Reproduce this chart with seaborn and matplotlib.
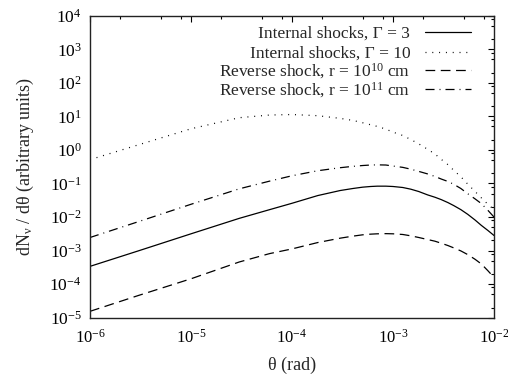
import numpy as np
import pandas as pd
import matplotlib
matplotlib.use("Agg")
import matplotlib.pyplot as plt
import matplotlib.ticker as mticker
import seaborn as sns

# Viewing angle (rad)
theta = [1e-6, 3e-6, 1e-5, 3e-5, 6e-5, 1e-4, 1.8e-4, 3e-4, 4e-4, 5e-4, 6e-4, 7e-4, 8.5e-4,
         1e-3, 1.25e-3, 1.5e-3, 1.8e-3, 2.2e-3, 2.6e-3, 3e-3, 3.5e-3, 4e-3, 4.7e-3,
         5.5e-3, 6.5e-3, 7.5e-3, 8.7e-3, 1e-2]

# log10 of dN_nu/dtheta for each emission model
internal_g3 = [-3.47, -3.01, -2.50, -2.04, -1.78, -1.59, -1.36, -1.21, -1.15, -1.11, -1.09,
               -1.08, -1.08, -1.09, -1.12, -1.17, -1.24, -1.34, -1.41, -1.48, -1.57, -1.66,
               -1.78, -1.92, -2.09, -2.25, -2.40, -2.55]
internal_g10 = [-0.29, 0.15, 0.63, 0.96, 1.04, 1.055, 1.02, 0.94, 0.88, 0.81, 0.75, 0.70,
                0.62, 0.53, 0.43, 0.31, 0.18, 0.02, -0.12, -0.28, -0.44, -0.61, -0.80,
                -1.02, -1.24, -1.43, -1.62, -1.78]
reverse_r10 = [-4.81, -4.34, -3.84, -3.34, -3.09, -2.95, -2.76, -2.63, -2.57, -2.53, -2.51,
               -2.50, -2.495, -2.50, -2.52, -2.56, -2.61, -2.67, -2.72, -2.78, -2.85, -2.92,
               -3.01, -3.12, -3.26, -3.40, -3.60, -3.80]
reverse_r11 = [-2.61, -2.14, -1.62, -1.16, -0.93, -0.77, -0.62, -0.53, -0.49, -0.465, -0.45,
               -0.445, -0.45, -0.48, -0.52, -0.574, -0.64, -0.715, -0.79, -0.867, -0.94,
               -1.025, -1.15, -1.306, -1.46, -1.60, -1.80, -2.0]

labels = ["Internal shocks, Γ = 3",
          "Internal shocks, Γ = 10",
          r"Reverse shock, r = 10$^{10}$ cm",
          r"Reverse shock, r = 10$^{11}$ cm"]

sns.set_style("white")
plt.rcParams["font.family"] = ["Liberation Serif", "DejaVu Serif"]
plt.rcParams["mathtext.fontset"] = "custom"
plt.rcParams["mathtext.rm"] = "Liberation Serif"
plt.rcParams["mathtext.it"] = "Liberation Serif:italic"
plt.rcParams["mathtext.bf"] = "Liberation Serif:bold"
plt.rcParams["lines.scale_dashes"] = False
plt.rcParams["axes.unicode_minus"] = False

fig = plt.figure(figsize=(5.08, 3.75), dpi=100)
ax = fig.add_axes([90 / 508, 1 - 317.7 / 375, (494 - 90) / 508, (317.7 - 15.7) / 375])

styles = ["-", (0, (0.7, 4.2)), (0, (7, 4)), (0, (6.5, 3.6, 0.7, 3.6))]
series = [internal_g3, internal_g10, reverse_r10, reverse_r11]
for vals, lab, ls in zip(series, labels, styles):
    df = pd.DataFrame({"theta": theta, "flux": np.power(10.0, vals)})
    sns.lineplot(data=df, x="theta", y="flux", ax=ax, color="black",
                 linestyle=ls, linewidth=0.9, label=lab)

ax.set_xscale("log")
ax.set_yscale("log")
ax.set_xlim(1e-6, 1e-2)
ax.set_ylim(1e-5, 1e4)

ax.xaxis.set_major_locator(mticker.LogLocator(base=10, numticks=10))
ax.yaxis.set_major_locator(mticker.LogLocator(base=10, numticks=20))
ax.xaxis.set_minor_locator(mticker.LogLocator(base=10, subs=[2, 5, 8], numticks=20))
ax.yaxis.set_minor_locator(mticker.LogLocator(base=10, subs=[2, 5, 8], numticks=20))
ax.xaxis.set_minor_formatter(mticker.NullFormatter())
ax.yaxis.set_minor_formatter(mticker.NullFormatter())

ax.tick_params(which="both", direction="in", top=True, right=True,
               labelsize=12.5, colors="black", width=0.8)
ax.tick_params(which="major", length=4)
ax.tick_params(axis="x", which="major", pad=8, labelsize=12)
ax.tick_params(axis="y", which="major", pad=6)
ax.tick_params(which="minor", length=2)
for sp in ax.spines.values():
    sp.set_color("#222222")
    sp.set_linewidth(1.0)

ax.set_xlabel("θ (rad)", fontsize=13, labelpad=7)
ax.set_ylabel(r"dN$_{\mathrm{ν}}$ / dθ (arbitrary units)", fontsize=13, labelpad=10)

# key split in two blocks (plain labels / labels with exponents) so rows stay evenly spaced
handles, labs = ax.get_legend_handles_labels()
key_opts = dict(bbox_transform=fig.transFigure, frameon=False, markerfirst=False,
                alignment="right", fontsize=12.5, handlelength=2.65, handletextpad=0.85,
                borderpad=0, borderaxespad=0, loc="upper right")
key_top = ax.legend(handles[:2], labs[:2], bbox_to_anchor=(471 / 508, 1 - 25.5 / 375),
                    labelspacing=0.22, **key_opts)
ax.add_artist(key_top)
key_bottom = ax.legend(handles[2:], labs[2:], bbox_to_anchor=(471 / 508, 1 - 61.5 / 375),
                       labelspacing=-0.04, **key_opts)

fig.savefig("out.png", dpi=100)
